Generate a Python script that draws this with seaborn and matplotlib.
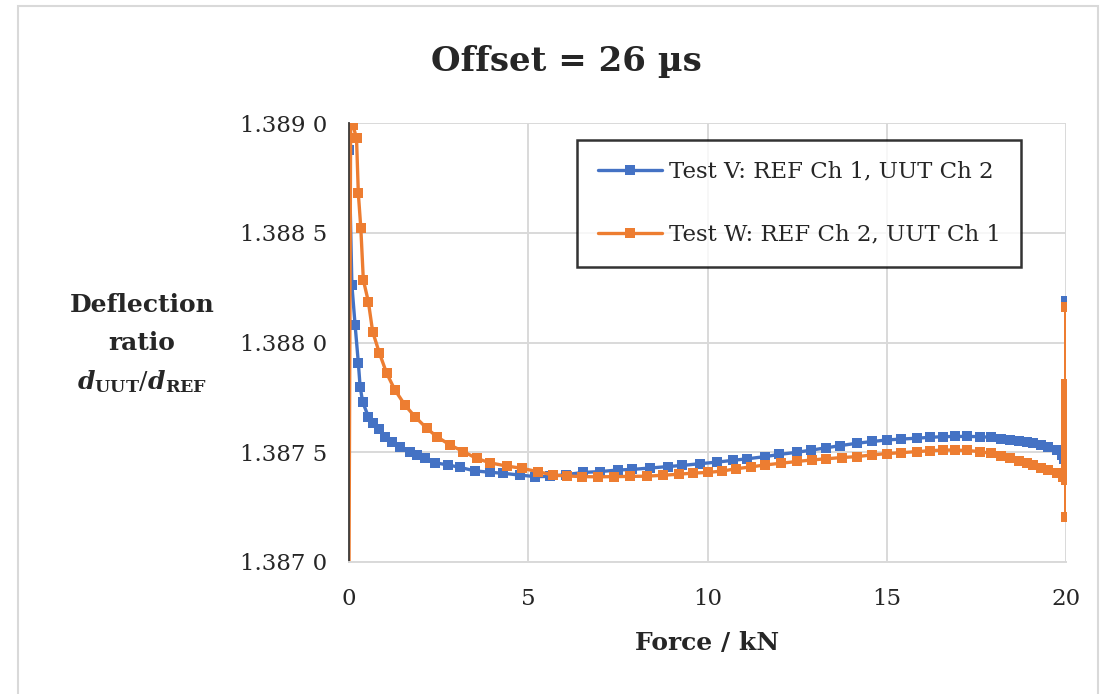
import numpy as np
import pandas as pd
import matplotlib
matplotlib.use("Agg")
import matplotlib.pyplot as plt
import seaborn as sns
from matplotlib.ticker import FuncFormatter, FixedLocator
from matplotlib.lines import Line2D
from matplotlib.patches import Rectangle

# ---------------- data ----------------
force_v = [0.00, 0.08, 0.17, 0.26, 0.31, 0.38, 0.54, 0.68, 0.85, 1.00,
           1.19, 1.42, 1.70, 1.89, 2.12, 2.40, 2.77, 3.10, 3.51, 3.93,
           4.30, 4.77, 5.19, 5.60, 6.05, 6.53, 7.00, 7.50, 7.90, 8.40,
           8.90, 9.30, 9.80, 10.26, 10.70, 11.10, 11.60, 12.00, 12.50, 12.90,
           13.30, 13.70, 14.16, 14.60, 15.00, 15.40, 15.84, 16.20, 16.57, 16.90,
           17.25, 17.60, 17.90, 18.20, 18.44, 18.70, 18.90, 19.08, 19.30, 19.50,
           19.74, 19.88, 19.95, 20.00, 20.00, 20.00, 20.00, 20.00, 20.00]
ratio_v = [1.388877, 1.388262, 1.388080, 1.387908, 1.387799, 1.387730, 1.387662, 1.387635, 1.387605, 1.387571,
           1.387548, 1.387525, 1.387503, 1.387487, 1.387472, 1.387452, 1.387442, 1.387431, 1.387415, 1.387409,
           1.387404, 1.387396, 1.387389, 1.387390, 1.387398, 1.387408, 1.387412, 1.387419, 1.387422, 1.387428,
           1.387435, 1.387440, 1.387448, 1.387455, 1.387463, 1.387470, 1.387480, 1.387490, 1.387500, 1.387510,
           1.387520, 1.387530, 1.387541, 1.387549, 1.387556, 1.387560, 1.387564, 1.387568, 1.387571, 1.387572,
           1.387572, 1.387571, 1.387568, 1.387562, 1.387556, 1.387550, 1.387545, 1.387541, 1.387532, 1.387522,
           1.387510, 1.387487, 1.387470, 1.387460, 1.388190, 1.387800, 1.387450, 1.387790, 1.387470]

force_w = [0.00, 0.05, 0.11, 0.21, 0.26, 0.33, 0.40, 0.54, 0.66, 0.85,
           1.05, 1.28, 1.56, 1.84, 2.17, 2.45, 2.82, 3.19, 3.56, 3.93,
           4.40, 4.82, 5.28, 5.70, 6.07, 6.50, 6.95, 7.40, 7.85, 8.30,
           8.75, 9.20, 9.60, 10.00, 10.40, 10.80, 11.20, 11.60, 12.05, 12.50,
           12.91, 13.30, 13.75, 14.16, 14.60, 15.00, 15.40, 15.84, 16.20, 16.57,
           16.90, 17.25, 17.60, 17.90, 18.20, 18.44, 18.70, 18.90, 19.08, 19.30,
           19.50, 19.74, 19.92, 20.00, 20.00, 20.00, 20.00, 20.00, 20.00, 20.00,
           20.00, 20.00, 20.00, 20.00, 20.00, 20.00, 20.00, 20.00, 20.00, 20.00,
           20.00]
ratio_w = [1.386950, 1.389200, 1.388991, 1.388930, 1.388680, 1.388520, 1.388285, 1.388186, 1.388049, 1.387951,
           1.387860, 1.387784, 1.387715, 1.387662, 1.387609, 1.387571, 1.387533, 1.387503, 1.387472, 1.387452,
           1.387437, 1.387427, 1.387411, 1.387396, 1.387392, 1.387389, 1.387388, 1.387389, 1.387390, 1.387391,
           1.387395, 1.387400, 1.387405, 1.387408, 1.387414, 1.387425, 1.387433, 1.387442, 1.387450, 1.387458,
           1.387465, 1.387470, 1.387476, 1.387480, 1.387488, 1.387494, 1.387498, 1.387503, 1.387507, 1.387510,
           1.387510, 1.387508, 1.387503, 1.387495, 1.387484, 1.387472, 1.387462, 1.387452, 1.387442, 1.387430,
           1.387418, 1.387404, 1.387389, 1.387380, 1.388160, 1.387205, 1.387810, 1.387375, 1.387770, 1.387410,
           1.387730, 1.387450, 1.387690, 1.387490, 1.387650, 1.387530, 1.387610, 1.387570, 1.387790, 1.387395,
           1.387390]

label_v = "Test V: REF Ch 1, UUT Ch 2"
label_w = "Test W: REF Ch 2, UUT Ch 1"
title_text = "Offset = 26 µs"
x_label = "Force / kN"
y_label_lines = ["Deflection", "ratio", r"$\mathbfit{d}_{\mathbf{UUT}}/\mathbfit{d}_{\mathbf{REF}}$"]
x_ticks = [0, 5, 10, 15, 20]
y_ticks = [1.3870, 1.3875, 1.3880, 1.3885, 1.3890]

# ---------------- styling ----------------
BLUE = "#4472C4"
ORANGE = "#ED7D31"
GRID = "#D9D9D9"
FONT = "DejaVu Serif"

sns.set_theme(style="white")
plt.rcParams['font.family'] = [FONT, 'DejaVu Sans']
plt.rcParams['mathtext.fontset'] = 'custom'
plt.rcParams['mathtext.rm'] = FONT
plt.rcParams['mathtext.bf'] = FONT + ':bold'
plt.rcParams['mathtext.it'] = FONT + ':italic'
plt.rcParams['mathtext.bfit'] = FONT + ':italic:bold'

fig = plt.figure(figsize=(11.15, 6.94), dpi=100)
ax = fig.add_axes([349/1115, 1 - 562/694, (1066-349)/1115, (562-123)/694])

df = pd.concat([
    pd.DataFrame({"force": force_v, "ratio": ratio_v, "series": label_v}),
    pd.DataFrame({"force": force_w, "ratio": ratio_w, "series": label_w}),
], ignore_index=True)

sns.lineplot(data=df, x="force", y="ratio", hue="series",
             palette={label_v: BLUE, label_w: ORANGE},
             estimator=None, sort=False, marker="s", markersize=7.5,
             markeredgewidth=0, linewidth=2.4, legend=False, ax=ax)

ax.set_xlim(0, 20)
ax.set_ylim(1.3870, 1.3890)
ax.xaxis.set_major_locator(FixedLocator(x_ticks))
ax.yaxis.set_major_locator(FixedLocator(y_ticks))
ax.xaxis.set_major_formatter(FuncFormatter(lambda v, p: f"{v:g}"))

def yfmt(v, p):
    s = f"{v:.4f}"
    return s[:-1] + " " + s[-1]
ax.yaxis.set_major_formatter(FuncFormatter(yfmt))

ax.grid(True, color=GRID, linewidth=1.4)
ax.set_axisbelow(True)
for s in ["top", "right"]:
    ax.spines[s].set_visible(False)
ax.spines["left"].set_color("#3a3a3a")
ax.spines["left"].set_linewidth(1.3)
ax.spines["bottom"].set_color(GRID)
ax.spines["bottom"].set_linewidth(1.4)
ax.tick_params(axis="both", length=0, labelsize=16.5, colors="#262626")
ax.tick_params(axis="x", pad=19)
ax.tick_params(axis="y", pad=16)
ax.set_xlabel("")
ax.set_ylabel("")

# title and axis labels
fig.text(566/1115, 1 - 62/694, title_text, ha="center", va="center",
         fontsize=24.5, fontweight="bold")
fig.text(707/1115, 1 - 643/694, x_label, ha="center", va="center",
         fontsize=18, fontweight="bold")
for txt, yy in zip(y_label_lines, [305, 343, 382]):
    fig.text(142/1115, 1 - yy/694, txt, ha="center", va="center",
             fontsize=18, fontweight="bold")

# legend
handles = [Line2D([], [], color=BLUE, lw=2.4, marker="s", markersize=7.5, markeredgewidth=0),
           Line2D([], [], color=ORANGE, lw=2.4, marker="s", markersize=7.5, markeredgewidth=0)]
leg = fig.legend(handles, [label_v, label_w], loc="upper left",
                 bbox_to_anchor=(577/1115, 1 - 140/694), borderaxespad=0,
                 fontsize=16.5, frameon=True, fancybox=False, edgecolor="black",
                 handlelength=2.8, handletextpad=0.3, labelspacing=1.8,
                 borderpad=0.9)
leg.get_frame().set_linewidth(1.8)

# outer chart border
fig.patches.append(Rectangle((18/1115, -0.05), (1098-18)/1115, 1.05 - 6/694,
                             transform=fig.transFigure, fill=False,
                             edgecolor=GRID, linewidth=1.5))

fig.savefig("out.png", dpi=100)
